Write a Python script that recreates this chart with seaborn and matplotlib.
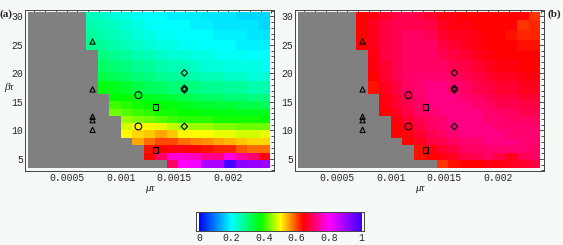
import numpy as np
import pandas as pd
import matplotlib
matplotlib.use("Agg")
import matplotlib.pyplot as plt
import seaborn as sns
from matplotlib.colors import LinearSegmentedColormap

nan = np.nan

# grid of the density plots (cell edges)
mu_edges = [0.000144, 0.000251, 0.000358, 0.000465, 0.000572, 0.000679, 0.000786,
            0.000893, 0.001000, 0.001107, 0.001214, 0.001321, 0.001428, 0.001535,
            0.001642, 0.001749, 0.001856, 0.001963, 0.002070, 0.002177, 0.002284,
            0.002391]
beta_edges = [3.4, 4.8, 6.1, 7.5, 8.6, 10.0, 11.3, 12.6, 13.7, 15.1, 16.4, 18.6,
              20.3, 22.4, 24.2, 25.9, 27.7, 29.3, 30.7]

# columns 0-4 are gray everywhere; rows below list columns 5-20, bottom row first
panel_a = [
    [nan]*7 + [0.70, 0.80, 0.81, 0.88, 0.88, 0.99, 0.92, 0.91, 0.90],
    [nan]*5 + [0.64, 0.70, 0.77, 0.77, 0.76, 0.73, 0.72, 0.78, 0.74, 0.71, 0.65],
    [nan]*5 + [0.63, 0.64, 0.65, 0.65, 0.64, 0.63, 0.62, 0.62, 0.59, 0.58, 0.58],
    [nan]*4 + [0.55, 0.58, 0.60, 0.60, 0.58, 0.57, 0.56, 0.55, 0.54, 0.53, 0.52, 0.52],
    [nan]*3 + [0.50, 0.52, 0.53, 0.55, 0.53, 0.50, 0.50, 0.50, 0.49, 0.49, 0.48, 0.48, 0.49],
    [nan]*3 + [0.48, 0.50, 0.50, 0.49, 0.47, 0.46, 0.45, 0.45, 0.44, 0.44, 0.43, 0.43, 0.43],
    [nan]*3 + [0.45, 0.44, 0.43, 0.42, 0.41, 0.40, 0.40, 0.40, 0.39, 0.39, 0.39, 0.39, 0.38],
    [nan]*2 + [0.43, 0.42, 0.41, 0.40, 0.39, 0.39, 0.38, 0.38, 0.37, 0.37, 0.37, 0.36, 0.36, 0.36],
    [nan]*2 + [0.41, 0.40, 0.39, 0.38, 0.38, 0.37, 0.36, 0.35, 0.35, 0.34, 0.34, 0.33, 0.33, 0.32],
    [nan]*2 + [0.38, 0.38, 0.37, 0.36, 0.35, 0.34, 0.33, 0.32, 0.31, 0.31, 0.30, 0.30, 0.29, 0.29],
    [nan] + [0.37, 0.36, 0.35, 0.33, 0.32, 0.31, 0.30, 0.30, 0.29, 0.28, 0.28, 0.27, 0.27, 0.26, 0.26],
    [nan] + [0.33, 0.32, 0.31, 0.30, 0.29, 0.28, 0.27, 0.27, 0.26, 0.25, 0.25, 0.24, 0.24, 0.23, 0.23],
    [nan] + [0.31, 0.30, 0.29, 0.28, 0.27, 0.26, 0.25, 0.25, 0.24, 0.23, 0.23, 0.22, 0.22, 0.22, 0.21],
    [nan] + [0.29, 0.28, 0.27, 0.26, 0.25, 0.24, 0.23, 0.23, 0.22, 0.22, 0.21, 0.21, 0.21, 0.20, 0.20],
    [0.28, 0.27, 0.26, 0.25, 0.24, 0.23, 0.22, 0.22, 0.21, 0.21, 0.20, 0.20, 0.20, 0.19, 0.19, 0.19],
    [0.27, 0.26, 0.25, 0.24, 0.23, 0.22, 0.21, 0.21, 0.20, 0.20, 0.20, 0.19, 0.19, 0.19, 0.18, 0.18],
    [0.26, 0.25, 0.24, 0.23, 0.22, 0.21, 0.20, 0.20, 0.20, 0.19, 0.19, 0.18, 0.18, 0.18, 0.18, 0.17],
    [0.25, 0.24, 0.23, 0.22, 0.21, 0.20, 0.20, 0.19, 0.19, 0.19, 0.18, 0.18, 0.18, 0.17, 0.17, 0.17],
]

panel_b = [
    [nan]*7 + [0.61, 0.63, 0.64, 0.64, 0.65, 0.65, 0.66, 0.67, 0.68],
    [nan]*5 + [0.63, 0.64, 0.65, 0.66, 0.68, 0.69, 0.70, 0.68, 0.66, 0.69, 0.70],
    [nan]*5 + [0.63, 0.65, 0.67, 0.68, 0.70, 0.70, 0.71, 0.71, 0.71, 0.71, 0.70],
    [nan]*4 + [0.64, 0.66, 0.68, 0.69, 0.70, 0.71, 0.71, 0.72, 0.72, 0.72, 0.71, 0.71],
    [nan]*3 + [0.64, 0.65, 0.67, 0.69, 0.70, 0.71, 0.72, 0.72, 0.72, 0.72, 0.71, 0.71, 0.71],
    [nan]*3 + [0.64, 0.66, 0.68, 0.70, 0.71, 0.72, 0.72, 0.72, 0.72, 0.71, 0.71, 0.71, 0.71],
    [nan]*3 + [0.65, 0.67, 0.69, 0.70, 0.71, 0.72, 0.72, 0.72, 0.71, 0.71, 0.70, 0.70, 0.70],
    [nan]*2 + [0.64, 0.66, 0.68, 0.70, 0.71, 0.72, 0.72, 0.72, 0.72, 0.71, 0.70, 0.70, 0.69, 0.69],
    [nan]*2 + [0.65, 0.67, 0.69, 0.70, 0.72, 0.72, 0.72, 0.72, 0.71, 0.70, 0.69, 0.69, 0.68, 0.68],
    [nan]*2 + [0.65, 0.67, 0.69, 0.71, 0.72, 0.72, 0.72, 0.71, 0.70, 0.69, 0.68, 0.68, 0.67, 0.67],
    [nan] + [0.63, 0.66, 0.68, 0.70, 0.71, 0.72, 0.72, 0.71, 0.70, 0.69, 0.68, 0.67, 0.67, 0.66, 0.66],
    [nan] + [0.64, 0.67, 0.69, 0.70, 0.71, 0.71, 0.71, 0.70, 0.69, 0.68, 0.67, 0.66, 0.66, 0.65, 0.65],
    [nan] + [0.65, 0.67, 0.69, 0.70, 0.70, 0.70, 0.70, 0.69, 0.68, 0.67, 0.66, 0.65, 0.65, 0.64, 0.64],
    [nan] + [0.65, 0.68, 0.69, 0.70, 0.70, 0.70, 0.69, 0.68, 0.67, 0.66, 0.65, 0.64, 0.64, 0.64, 0.64],
    [0.64, 0.66, 0.68, 0.69, 0.70, 0.70, 0.70, 0.68, 0.67, 0.66, 0.65, 0.64, 0.64, 0.64, 0.63, 0.63],
    [0.64, 0.66, 0.68, 0.69, 0.70, 0.70, 0.69, 0.67, 0.66, 0.66, 0.65, 0.64, 0.64, 0.63, 0.62, 0.62],
    [0.64, 0.66, 0.68, 0.69, 0.69, 0.69, 0.68, 0.66, 0.65, 0.65, 0.64, 0.64, 0.64, 0.64, 0.61, 0.62],
    [0.64, 0.65, 0.67, 0.68, 0.69, 0.68, 0.67, 0.65, 0.65, 0.64, 0.64, 0.64, 0.64, 0.64, 0.64, 0.61],
]

# marked parameter points
mark_kind = ["tri"]*5 + ["circ"]*2 + ["sq"]*2 + ["dia"]*4
mark_mu = [0.00074, 0.00074, 0.00074, 0.00074, 0.00074,
           0.001165, 0.001165, 0.001326, 0.001326,
           0.001592, 0.001592, 0.001592, 0.001592]
mark_beta = [25.6, 17.2, 12.4, 11.8, 10.1,
             16.2, 10.7, 14.1, 6.6,
             20.1, 17.1, 17.4, 10.7]

x_ticks = [0.0005, 0.001, 0.0015, 0.002]
x_labels = ["0.0005", "0.001", "0.0015", "0.002"]
y_ticks = [5, 10, 15, 20, 25, 30]
cbar_ticks = [0, 0.2, 0.4, 0.6, 0.8, 1]
cbar_labels = ["0", "0.2", "0.4", "0.6", "0.8", "1"]

sns.set_style("white")
bg = "#f6faf6"
mono = "Liberation Mono"

hue = LinearSegmentedColormap.from_list("hue", [
    (0.0, "#0000ff"), (0.2, "#00ffff"), (0.38, "#00ff00"), (0.5, "#ffff00"),
    (0.64, "#ff0000"), (0.8, "#ff00ff"), (1.0, "#4000ff")])
hue.set_bad("#808080")

marks = pd.DataFrame({"kind": mark_kind, "mu": mark_mu, "beta": mark_beta})
shapes = {"tri": ("^", 14), "circ": ("o", 24), "sq": ("s", 16), "dia": ("D", 11)}

fig = plt.figure(figsize=(5.63, 2.45), dpi=100, facecolor=bg)


def panel(rect, rows):
    ax = fig.add_axes(rect, facecolor=bg)
    vals = np.hstack([np.full((len(rows), 5), nan), np.array(rows)])
    ax.pcolormesh(mu_edges, beta_edges, np.ma.masked_invalid(vals),
                  cmap=hue, vmin=0, vmax=1)
    for k, (m, s) in shapes.items():
        sub = marks[marks.kind == k]
        sns.scatterplot(data=sub, x="mu", y="beta", marker=m, s=s, ax=ax,
                        facecolor="none", edgecolor="black", linewidth=0.8,
                        legend=False, zorder=3)
    ax.set_xlim(0.000113, 0.002424)
    ax.set_ylim(2.89, 31.13)
    ax.set_xticks(x_ticks)
    ax.set_xticklabels(x_labels)
    ax.set_xticks(np.arange(0.0002, 0.00241, 0.0001), minor=True)
    ax.set_yticks(y_ticks)
    ax.set_yticks(np.arange(3, 32, 1), minor=True)
    ax.tick_params(which="both", direction="in", top=True, right=True,
                   color="#333333", width=0.6)
    ax.tick_params(which="major", length=4, pad=1.5, labelsize=7)
    ax.tick_params(which="minor", length=2)
    for lab in ax.get_xticklabels() + ax.get_yticklabels():
        lab.set_family(mono)
    for sp in ax.spines.values():
        sp.set_linewidth(0.7)
        sp.set_color("#444444")
    ax.set_xlabel("μτ", family="Liberation Serif", style="italic", fontsize=8, labelpad=1)
    ax.set_ylabel("")
    return ax


ax_a = panel([25 / 563, 1 - 171 / 245, 249 / 563, 161 / 245], panel_a)
ax_b = panel([295 / 563, 1 - 171 / 245, 249 / 563, 161 / 245], panel_b)

fig.text(4 / 563, 1 - 88 / 245, "βτ", family="Liberation Serif", style="italic",
         fontsize=8, va="center", ha="left")
fig.text(0.0, 1 - 14 / 245, "(a)", family="Liberation Serif", weight="bold",
         fontsize=8, va="center", ha="left")
fig.text(547 / 563, 1 - 14 / 245, "(b)", family="Liberation Serif", weight="bold",
         fontsize=8, va="center", ha="left")

# colour scale
cax = fig.add_axes([196 / 563, 1 - 230.7 / 245, 168 / 563, 19 / 245], facecolor="white")
grad = np.linspace(0, 1, 256)
cax.pcolormesh(grad, [0, 1], np.vstack([grad, grad]), cmap=hue, vmin=0, vmax=1)
cax.set_xlim(-0.02, 1.016)
cax.set_ylim(-0.08, 1.08)
cax.set_yticks([])
cax.set_xticks(cbar_ticks)
cax.set_xticklabels(cbar_labels)
cax.tick_params(axis="x", direction="in", length=2, pad=1.5, labelsize=7, width=0.6)
for lab in cax.get_xticklabels():
    lab.set_family(mono)
for sp in cax.spines.values():
    sp.set_linewidth(0.7)
    sp.set_color("#444444")

fig.savefig("out.png", dpi=100, facecolor=bg)
